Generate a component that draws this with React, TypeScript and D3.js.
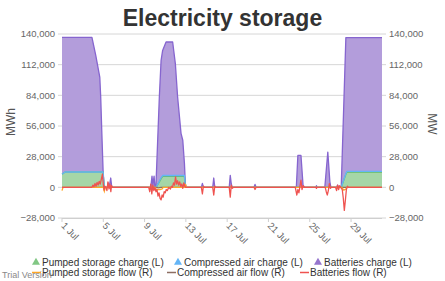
import React from "react";
import * as d3 from "d3";

// ---- Data (days since 1 Jul, values in MWh / MW) ----
const chargeDays = [0, 0.3, 2.9, 3.27, 3.66, 3.75, 3.85, 3.98, 4.08, 4.4, 4.48, 4.55, 4.62, 4.72, 4.82, 8.6, 8.72, 8.8, 8.92, 9.0, 9.1, 9.43, 9.6, 9.75, 10.08, 10.72, 10.98, 11.2, 11.53, 11.7, 11.86, 11.95, 12.05, 13.5, 13.6, 13.7, 14.6, 14.7, 14.8, 16.2, 16.3, 16.4, 16.5, 18.6, 18.7, 18.8, 22.7, 22.85, 23.15, 23.35, 23.5, 24.6, 24.65, 24.7, 25.46, 25.75, 25.95, 26.05, 26.6, 26.7, 26.8, 27.05, 27.5, 27.6, 31];
const pumpedCharge = [12000, 14000, 14000, 14000, 14000, 14000, 14000, 14000, 0, 0, 0, 0, 0, 0, 0, 0, 0, 0, 0, 0, 0, 5000, 8000, 10000, 10000, 10000, 10000, 10000, 10000, 10000, 10000, 0, 0, 0, 0, 0, 0, 0, 0, 0, 0, 0, 0, 0, 0, 0, 0, 0, 0, 0, 0, 0, 0, 0, 0, 0, 0, 0, 0, 0, 0, 0, 12000, 14000, 14000];
const compressedCharge = [0, 0, 0, 0, 0, 0, 0, 0, 0, 0, 0, 0, 0, 0, 0, 0, 0, 0, 0, 0, 0, 500, 800, 800, 800, 800, 800, 800, 800, 800, 800, 0, 0, 0, 0, 0, 0, 0, 0, 0, 0, 0, 0, 0, 0, 0, 0, 500, 500, 0, 0, 0, 0, 0, 0, 500, 0, 0, 0, 0, 0, 0, 500, 500, 500];
const batteriesCharge = [125000, 123000, 123000, 106500, 86700, 68500, 38000, 1500, 0, 0, 4000, 0, 3000, 8500, 0, 0, 10300, 2000, 10300, 0, 1500, 77000, 107200, 114200, 121900, 121900, 102200, 71700, 38500, 32200, 11200, 3000, 0, 0, 3600, 0, 0, 8500, 0, 0, 11000, 3000, 0, 0, 2700, 0, 0, 28600, 28600, 2000, 0, 0, 1500, 0, 0, 31700, 5000, 0, 0, 2000, 0, 0, 124200, 122200, 122200];

const batteriesFlowDays = [0, 2.9, 3.0, 3.1, 3.2, 3.3, 3.4, 3.5, 3.6, 3.7, 3.8, 3.92, 4.0, 4.08, 4.15, 4.25, 4.35, 4.45, 4.55, 4.65, 4.73, 4.8, 4.9, 8.4, 8.5, 8.6, 8.7, 8.8, 8.9, 9.0, 9.1, 9.2, 9.3, 9.4, 9.5, 9.6, 9.7, 9.8, 9.9, 10.0, 10.1, 10.2, 10.35, 10.5, 10.6, 10.7, 10.8, 10.9, 11.0, 11.1, 11.2, 11.3, 11.4, 11.5, 11.6, 11.7, 11.8, 11.9, 12.0, 13.5, 13.6, 13.7, 13.8, 14.6, 14.7, 14.8, 14.9, 16.2, 16.3, 16.4, 16.5, 16.6, 18.6, 18.7, 18.8, 22.6, 22.75, 22.85, 22.95, 23.05, 23.15, 23.25, 23.35, 23.45, 24.6, 24.65, 24.7, 25.5, 25.6, 25.7, 25.8, 25.9, 26.0, 26.1, 26.5, 26.6, 26.7, 26.8, 26.9, 27.0, 27.15, 27.25, 27.35, 27.45, 27.55, 27.65, 27.75, 31];
const batteriesFlow = [0, 0, 2000, 500, 3500, 1000, 4500, 2000, 5500, 3000, 7000, 12000, 3000, -2500, 1000, 0, -3000, 5000, -1500, 3000, -4000, 1500, 0, 0, -4000, 3000, -6000, 2000, -3000, 0, -4000, -2000, -8000, -5000, -10000, -11500, -7000, -9000, -4000, -5000, -2000, -3000, 0, -1500, 1000, 0, 4000, 2000, 9500, 3000, 6000, 2000, 5000, 1000, 3000, -1000, 4000, 1000, 0, 0, -6000, 1000, 0, 0, -7000, 1000, 0, 0, -9000, 2000, -1000, 0, 0, -2000, 0, 0, -7000, -2000, -5000, 1000, 6500, -2000, 1500, 0, 0, -1000, 0, 0, -4000, -7000, -3000, 3400, -1000, 0, 0, -3000, 2000, -2000, 1500, 0, -2000, -10000, -21000, -12000, -2000, 1000, 0, 0];

const pumpedFlowDays = [0, 0.1, 4.0, 4.1, 4.2, 9.05, 9.15, 9.3, 9.5, 9.7, 9.8, 11.9, 11.95, 12.05, 27.1, 27.3, 27.5, 27.6, 31];
const pumpedFlow = [-3000, 0, 0, -3500, 0, 0, -2500, -2000, -2000, -1500, 0, 0, 3000, 0, 0, -2500, -1500, 0, 0];

const compressedFlowDays = [0, 9.2, 9.3, 9.6, 31];
const compressedFlow = [0, 0, -500, 0, 0];

const yTicks = [-28000, 0, 28000, 56000, 84000, 112000, 140000];

const legendRow1 = ["Pumped storage charge (L)", "Compressed air charge (L)", "Batteries charge (L)"];
const legendRow2 = ["Pumped storage flow (R)", "Compressed air flow (R)", "Batteries flow (R)"];

// ---- Styles ----
const W = 445, H = 281;
const FONT = "'Liberation Sans', Arial, sans-serif";
const C_PURPLE_FILL = "#b39ddb";
const C_PURPLE = "#8665cf";
const C_GREEN_FILL = "#a5d6a7";
const C_GREEN = "#66bb6a";
const C_BLUE = "#64b5f6";
const C_ORANGE = "#ffa726";
const C_BROWN = "#8d6e63";
const C_RED = "#ef5350";

const start = new Date(2023, 6, 1);
const toDate = (d: number) => new Date(start.getTime() + d * 864e5);

export default function App() {
  const left = 62, right = 382, top = 34, bottom = 218;
  const x = d3.scaleTime().domain([start, new Date(2023, 7, 1)]).range([left, right]);
  const yL = d3.scaleLinear().domain([-28000, 140000]).range([bottom, top]);
  const yR = d3.scaleLinear().domain([-28000, 140000]).range([bottom, top]);

  const rows = chargeDays.map((d, i) => ({
    date: toDate(d),
    pumped: pumpedCharge[i],
    compressed: compressedCharge[i],
    batteries: batteriesCharge[i],
  }));
  const stack = d3.stack<any>().keys(["pumped", "compressed", "batteries"]);
  const series = stack(rows);

  const area = d3
    .area<any>()
    .x((d) => x(d.data.date))
    .y0((d) => yL(d[0]))
    .y1((d) => yL(d[1]));
  const topLine = d3
    .line<any>()
    .x((d) => x(d.data.date))
    .y((d) => yL(d[1]));

  const flowLine = d3
    .line<[number, number]>()
    .x((d) => x(toDate(d[0])))
    .y((d) => yR(d[1]));
  const zip = (a: number[], b: number[]) => a.map((v, i) => [v, b[i]] as [number, number]);

  const xTicks = d3.timeDay.every(4)!.range(start, new Date(2023, 7, 1)).filter((d) => d.getDate() <= 29);
  const fmt = d3.format(",");
  const fmtDate = d3.timeFormat("%-d %b");

  const fills = [C_GREEN_FILL, C_BLUE, C_PURPLE_FILL];
  const strokes = [C_GREEN, C_BLUE, C_PURPLE];
  const order = [2, 0, 1];

  const legendX1 = [42, 184, 324];
  const legendX2 = [42, 177, 310];
  const triColors = ["#81c784", C_BLUE, "#9575cd"];
  const lineColors = [C_ORANGE, C_BROWN, C_RED];

  return (
    <svg width={W} height={H} style={{ position: "absolute", left: 0, top: 0, background: "#fff" }} fontFamily={FONT}>
      <text x={222.5} y={26} textAnchor="middle" fontSize={23} fontWeight="bold" fill="#333">
        Electricity storage
      </text>

      {/* grid */}
      {yTicks.map((t) => (
        <g key={t}>
          <line x1={left - 4} x2={right + 4} y1={yL(t)} y2={yL(t)} stroke="#d6d6d6" strokeWidth={1} />
          <text x={55} y={yL(t)} dy="0.35em" textAnchor="end" fontSize={9.5} fill="#666">
            {fmt(t)}
          </text>
          <text x={389} y={yR(t)} dy="0.35em" textAnchor="start" fontSize={9.5} fill="#666">
            {fmt(t)}
          </text>
        </g>
      ))}

      {/* areas */}
      {order.map((k) => (
        <path key={"a" + k} d={area(series[k] as any) || ""} fill={fills[k]} stroke="none" opacity={k === 1 ? 0.6 : 1} />
      ))}
      {order.map((k) => (
        <path key={"l" + k} d={topLine(series[k] as any) || ""} fill="none" stroke={strokes[k]} strokeWidth={1.3} strokeLinejoin="round" />
      ))}

      {/* flows */}
      <path d={flowLine(zip(compressedFlowDays, compressedFlow)) || ""} fill="none" stroke={C_BROWN} strokeWidth={1.3} />
      <path d={flowLine(zip(pumpedFlowDays, pumpedFlow)) || ""} fill="none" stroke={C_ORANGE} strokeWidth={1.3} />
      <path d={flowLine(zip(batteriesFlowDays, batteriesFlow)) || ""} fill="none" stroke={C_RED} strokeWidth={1.3} strokeLinejoin="round" />

      {/* x axis */}
      <line x1={left} x2={right} y1={bottom + 0.5} y2={bottom + 0.5} stroke="#cfcfcf" />
      {xTicks.map((t) => (
        <g key={+t} transform={`translate(${x(t)},${bottom})`}>
          <line y1={0} y2={4} stroke="#cfcfcf" />
          <text transform="translate(1,6) rotate(45)" dy="0.35em" fontSize={9.5} fill="#666">
            {fmtDate(t)}
          </text>
        </g>
      ))}

      {/* axis titles */}
      <text transform={`translate(15,${(top + bottom) / 2 - 4}) rotate(-90)`} textAnchor="middle" fontSize={12} fill="#555">
        MWh
      </text>
      <text transform={`translate(428,${(top + bottom) / 2 - 2}) rotate(90)`} textAnchor="middle" fontSize={12} fill="#555">
        MW
      </text>

      {/* legend */}
      {legendRow1.map((s, i) => (
        <g key={s} transform={`translate(${legendX1[i]},262.5)`}>
          <path d={d3.symbol().type(d3.symbolTriangle).size(28)() || ""} transform="translate(-6,0)" fill={triColors[i]} />
          <text x={0} dy="0.35em" fontSize={10} fill="#333">
            {s}
          </text>
        </g>
      ))}
      {legendRow2.map((s, i) => (
        <g key={s} transform={`translate(${legendX2[i]},272.5)`}>
          <line x1={-10} x2={-1} stroke={lineColors[i]} strokeWidth={1.5} />
          <text x={0} dy="0.35em" fontSize={10} fill="#333">
            {s}
          </text>
        </g>
      ))}
      <text x={2} y={278} fontSize={9} fill="#888">
        Trial Version
      </text>
    </svg>
  );
}
